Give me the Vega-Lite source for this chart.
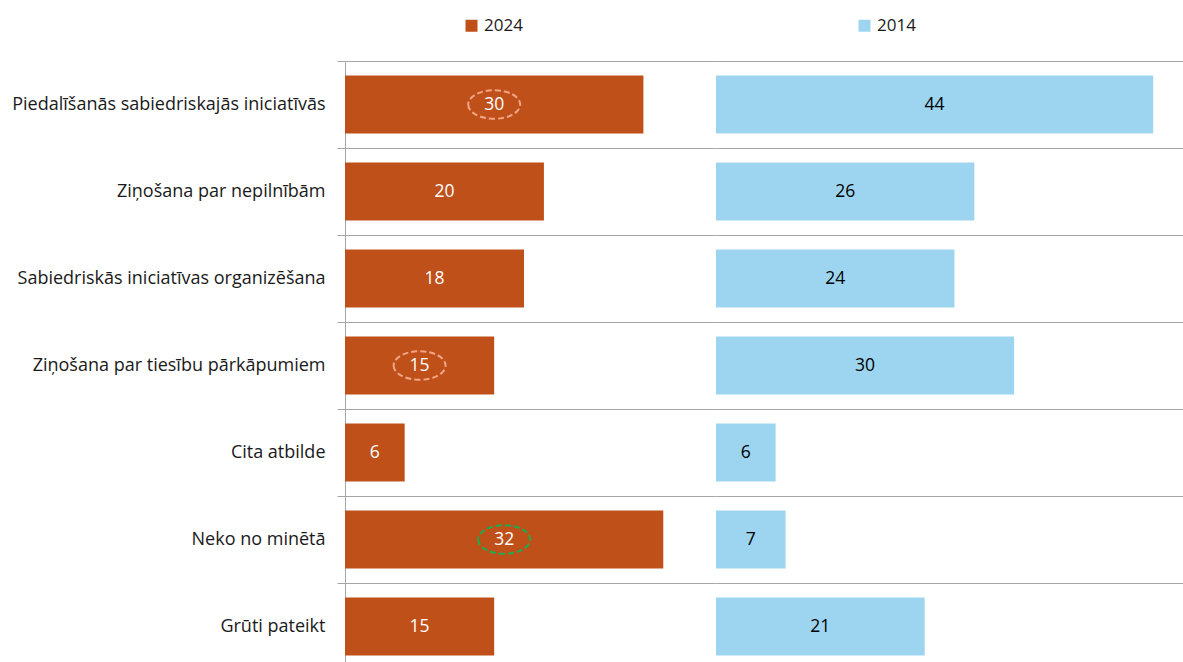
{
  "$schema": "https://vega.github.io/schema/vega-lite/v6.json",
  "background": "white",
  "padding": {"left": 11, "top": 17, "right": 0, "bottom": 0},
  "spacing": 0,
  "config": {
    "view": {"stroke": null},
    "font": "Open Sans",
    "axisY": {
      "title": null,
      "grid": true,
      "tickBand": "extent",
      "gridColor": "#a6a6a6",
      "tickColor": "#a6a6a6",
      "domainColor": "#a6a6a6",
      "labelFontSize": 18,
      "labelColor": "#1a1a1a",
      "labelPadding": 12,
      "tickSize": 8,
      "labelLimit": 400
    }
  },
  "data": {
    "values": [
      {"category": "Piedalīšanās sabiedriskajās iniciatīvās", "year": "2024", "value": 30, "change": "down"},
      {"category": "Ziņošana par nepilnībām", "year": "2024", "value": 20},
      {"category": "Sabiedriskās iniciatīvas organizēšana", "year": "2024", "value": 18},
      {"category": "Ziņošana par tiesību pārkāpumiem", "year": "2024", "value": 15, "change": "down"},
      {"category": "Cita atbilde", "year": "2024", "value": 6},
      {"category": "Neko no minētā", "year": "2024", "value": 32, "change": "up"},
      {"category": "Grūti pateikt", "year": "2024", "value": 15},
      {"category": "Piedalīšanās sabiedriskajās iniciatīvās", "year": "2014", "value": 44},
      {"category": "Ziņošana par nepilnībām", "year": "2014", "value": 26},
      {"category": "Sabiedriskās iniciatīvas organizēšana", "year": "2014", "value": 24},
      {"category": "Ziņošana par tiesību pārkāpumiem", "year": "2014", "value": 30},
      {"category": "Cita atbilde", "year": "2014", "value": 6},
      {"category": "Neko no minētā", "year": "2014", "value": 7},
      {"category": "Grūti pateikt", "year": "2014", "value": 21}
    ]
  },
  "resolve": {"scale": {"color": "shared"}},
  "hconcat": [
    {
      "width": 371,
      "height": 609,
      "transform": [{"filter": "datum.year === '2024'"}],
      "encoding": {
        "y": {
          "field": "category",
          "type": "nominal",
          "sort": null,
          "scale": {"paddingInner": 0, "paddingOuter": 0}
        }
      },
      "layer": [
        {
          "mark": {"type": "bar", "height": {"band": 0.667}},
          "encoding": {
            "x": {"field": "value", "type": "quantitative", "scale": {"domain": [0, 37.3], "nice": false}, "axis": null},
            "color": {
              "field": "year",
              "type": "nominal",
              "scale": {"domain": ["2024", "2014"], "range": ["#C0501A", "#9DD5F0"]},
              "legend": {
                "orient": "none",
                "legendX": 118,
                "legendY": -44,
                "direction": "horizontal",
                "title": null,
                "symbolType": "square",
                "symbolSize": 144,
                "symbolStrokeWidth": 0,
                "labelFontSize": 17,
                "labelColor": "#1a1a1a",
                "columnPadding": 333
              }
            }
          }
        },
        {
          "mark": {"type": "text", "fill": "white", "fontSize": 17.5},
          "encoding": {
            "x": {"field": "value", "type": "quantitative", "stack": "zero", "bandPosition": 0.5},
            "text": {"field": "value", "type": "quantitative"}
          }
        },
        {
          "transform": [{"filter": "isValid(datum.change)"}],
          "mark": {
            "type": "point",
            "shape": "M-1,0A1,0.55,0,1,0,1,0A1,0.55,0,1,0,-1,0Z",
            "size": 2700,
            "filled": false,
            "strokeWidth": 2,
            "strokeDash": [6, 3],
            "opacity": 1
          },
          "encoding": {
            "x": {"field": "value", "type": "quantitative", "stack": "zero", "bandPosition": 0.5},
            "stroke": {
              "field": "change",
              "type": "nominal",
              "scale": {"domain": ["down", "up"], "range": ["#F2A484", "#1EAA4E"]},
              "legend": null
            }
          }
        }
      ]
    },
    {
      "width": 467,
      "height": 609,
      "transform": [{"filter": "datum.year === '2014'"}],
      "encoding": {
        "y": {
          "field": "category",
          "type": "nominal",
          "sort": null,
          "scale": {"paddingInner": 0, "paddingOuter": 0},
          "axis": {"labels": false, "ticks": false, "domain": false}
        }
      },
      "layer": [
        {
          "mark": {"type": "bar", "height": {"band": 0.667}},
          "encoding": {
            "x": {"field": "value", "type": "quantitative", "scale": {"domain": [0, 47], "nice": false}, "axis": null},
            "color": {"field": "year", "type": "nominal"}
          }
        },
        {
          "mark": {"type": "text", "fill": "#000000", "fontSize": 17.5},
          "encoding": {
            "x": {"field": "value", "type": "quantitative", "stack": "zero", "bandPosition": 0.5},
            "text": {"field": "value", "type": "quantitative"}
          }
        }
      ]
    }
  ]
}
